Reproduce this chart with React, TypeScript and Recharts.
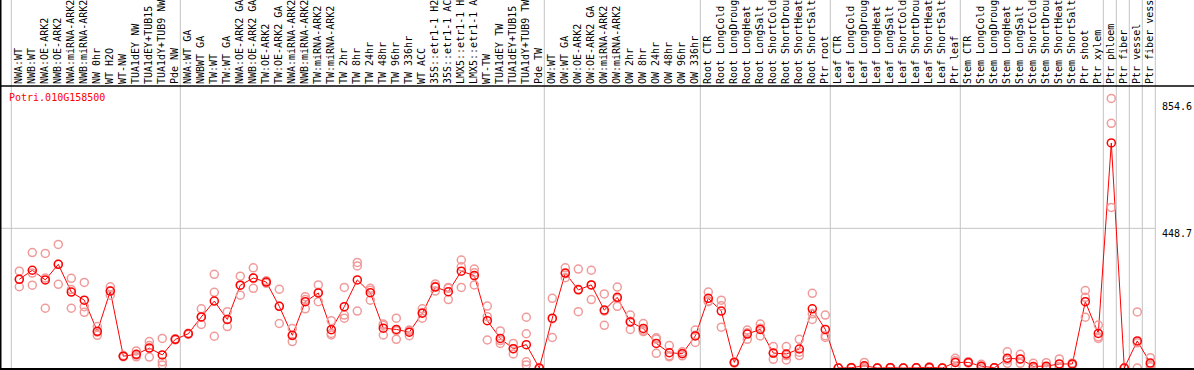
import React from 'react';
import { ComposedChart, Line, XAxis, YAxis, ReferenceLine } from 'recharts';

const geneId = 'Potri.010G158500';

const categories = [
  'NWA:WT', 'NWB:WT', 'NWA:OE-ARK2', 'NWB:OE-ARK2', 'NWA:miRNA-ARK2', 'NWB:miRNA-ARK2',
  'NW 0hr', 'WT H2O', 'WT-NW', 'TUA1dEY NW', 'TUA1dEY+TUB15 NW', 'TUA1dY+TUB9 NW', 'Pde NW',
  'NWA:WT GA', 'NWBWT GA', 'TW:WT', 'TW:WT GA', 'NWA:OE-ARK2 GA', 'NWB:OE-ARK2 GA',
  'TW:OE-ARK2', 'TW:OE-ARK2 GA', 'NWA:miRNA-ARK2 GA', 'NWB:miRNA-ARK2 GA', 'TW:miRNA-ARK2',
  'TW:miRNA-ARK2 GA', 'TW 2hr', 'TW 8hr', 'TW 24hr', 'TW 48hr', 'TW 96hr', 'TW 336hr',
  'WT ACC', '35S::etr1-1 H2O', '35S::etr1-1 ACC', 'LMX5::etr1-1 H2O', 'LMX5::etr1-1 ACC',
  'WT-TW', 'TUA1dEY TW', 'TUA1dEY+TUB15 TW', 'TUA1dY+TUB9 TW', 'Pde TW',
  'OW:WT', 'OW:WT GA', 'OW:OE-ARK2', 'OW:OE-ARK2 GA', 'OW:miRNA-ARK2', 'OW:miRNA-ARK2 GA',
  'OW 2hr', 'OW 8hr', 'OW 24hr', 'OW 48hr', 'OW 96hr', 'OW 336hr',
  'Root CTR', 'Root LongCold', 'Root LongDrought', 'Root LongHeat', 'Root LongSalt',
  'Root ShortCold', 'Root ShortDrought', 'Root ShortHeat', 'Root ShortSalt', 'Ptr root',
  'Leaf CTR', 'Leaf LongCold', 'Leaf LongDrought', 'Leaf LongHeat', 'Leaf LongSalt',
  'Leaf ShortCold', 'Leaf ShortDrought', 'Leaf ShortHeat', 'Leaf ShortSalt', 'Ptr leaf',
  'Stem CTR', 'Stem LongCold', 'Stem LongDrought', 'Stem LongHeat', 'Stem LongSalt',
  'Stem ShortCold', 'Stem ShortDrought', 'Stem ShortHeat', 'Stem ShortSalt', 'Ptr shoot', 'Ptr xylem',
  'Ptr phloem', 'Ptr fiber', 'Ptr vessel', 'Ptr fiber vessel',
];

const means = [
  285, 314, 283, 333, 244, 218, 118, 247, 38, 44, 64, 42, 92,
  110, 164, 215, 156, 266, 289, 276, 198, 105, 213, 241, 123, 197, 283, 242,
  128, 124, 115, 176, 260, 245, 311, 297, 152, 95, 62, 75, 0,
  160, 305, 251, 267, 186, 227, 148, 127, 79, 49, 46, 103,
  224, 183, 18, 109, 124, 48, 45, 61, 190, 124,
  0, 1, 7, 0, 1, 0, 0.5, 2, 0, 18,
  18, 6, 0.5, 31, 29, 5, 6, 13, 13, 213, 111,
  723, 0, 87, 16,
];

// individual replicate measurements (faint circles)
const replicates = [
  [311, 285, 261], [371, 305, 266], [368, 289, 192], [397, 333, 269], [288, 252, 192],
  [275, 197, 179], [133, 115, 105], [261, 247, 234], [40, 38, 36], [55, 41, 36],
  [85, 72, 35], [95, 20, 10], [94, 92, 90],
  [112, 110, 108], [190, 164, 140], [301, 243, 102], [181, 156, 133], [295, 266, 234],
  [322, 289, 256], [280, 276, 272], [253, 198, 143], [127, 104, 85], [229, 220, 190],
  [267, 243, 213], [152, 111, 106], [259, 170, 160], [339, 328, 183], [256, 250, 218],
  [141, 137, 106], [160, 120, 92], [122, 120, 104], [190, 178, 160], [270, 263, 247],
  [259, 256, 220], [347, 325, 259], [318, 306, 267], [199, 165, 90], [119, 88, 79],
  [79, 62, 45], [163, 110, 20, 10], [0, 0, 0],
  [224, 158, 98], [322, 303, 290], [318, 253, 181], [314, 267, 220], [238, 183, 137],
  [260, 223, 198], [170, 150, 124], [143, 121, 117], [97, 93, 47], [72, 39, 36],
  [52, 47, 39], [122, 105, 82],
  [244, 215, 213], [218, 200, 131], [20, 18, 16], [122, 113, 92], [141, 128, 103],
  [69, 47, 28], [69, 40, 26], [92, 51, 40], [240, 174, 156], [170, 104, 98],
  [0, 0, 0], [2, 1, 0], [18, 3, 0], [0, 0, 0], [2, 1, 0], [0, 0, 0], [1, 0.5, 0],
  [4, 2, 0], [0, 0, 0], [31, 23, 0],
  [20, 18, 16], [12, 6, 0], [1, 0.5, 0], [52, 26, 15], [44, 28, 15], [15, 0, 0],
  [17, 1, 0], [29, 5, 5], [16, 13, 10], [249, 227, 163], [138, 100, 95],
  [866, 786, 516], [0, 0, 0], [180, 81, 0], [33, 11, 4],
];

const yTicks = [0, 448.7, 854.6];
const yMax = 906;

// index of the first sample in each block (vertical separators)
const groupStarts = [0, 13, 41, 53, 63, 73, 84, 85, 86, 87];

const RED = '#ff0000';
const PINK = '#f09a9a';
const GRID = '#c4c4c4';
const FONT = '"DejaVu Sans Mono", monospace';

const maxReps = Math.max(...replicates.map(r => r.length));

const rows = categories.map((label, i) => {
  const row: Record<string, any> = { label, mean: means[i] };
  replicates[i].forEach((v, j) => {
    row[`r${j}`] = v;
  });
  return row;
});

const LabelTick = (props: any) => {
  const { x, payload } = props;
  const text = String(payload.value).slice(0, 14);
  return (
    <text
      transform={`translate(${x + 3},84) rotate(-90)`}
      fontFamily={FONT}
      fontSize={10}
      fill="#000"
      textAnchor="start"
    >
      {text}
    </text>
  );
};

const ValueTick = (props: any) => {
  const { y, payload } = props;
  const dy = payload.value === 0 ? -2.5 : 8.5;
  return (
    <text x={1162} y={y + dy} fontFamily={FONT} fontSize={10} fill="#000">
      {payload.value}
    </text>
  );
};

const MeanDot = (props: any) => {
  const { cx, cy } = props;
  if (cx == null || cy == null) return null;
  return <circle cx={cx} cy={cy} r={4} fill="none" stroke={RED} strokeWidth={1.5} />;
};

const vLine = (offset: number) => (p: any) => (
  <line
    x1={p.x1 + offset}
    x2={p.x1 + offset}
    y1={0}
    y2={Math.max(p.y1, p.y2) + 2}
    stroke={GRID}
    strokeWidth={1}
  />
);

const hLine = (p: any) => (
  <line x1={0} x2={Math.max(p.x1, p.x2) - 1.5} y1={p.y1} y2={p.y1} stroke={GRID} strokeWidth={1} />
);

export default function App() {
  return (
    <div style={{ position: 'relative', width: 1194, height: 370, background: '#fff' }}>
      <style>{'body{margin:0}'}</style>
      <ComposedChart
        width={1194}
        height={370}
        data={rows}
        margin={{ top: 0, right: 0, bottom: 2, left: 12.8 }}
      >
        <XAxis
          dataKey="label"
          orientation="top"
          height={86}
          interval={0}
          padding={{ left: 6.5, right: 6.5 }}
          tickLine={false}
          axisLine={false}
          tick={<LabelTick />}
        />
        <YAxis
          orientation="right"
          type="number"
          width={37.2}
          domain={[0, yMax]}
          ticks={yTicks}
          axisLine={false}
          tickLine={false}
          tick={<ValueTick />}
        />
        {groupStarts.map(i => (
          <ReferenceLine key={i} x={categories[i]} ifOverflow="visible" shape={vLine(-8)} />
        ))}
        <ReferenceLine x={categories[categories.length - 1]} ifOverflow="visible" shape={vLine(5)} />
        <ReferenceLine y={yTicks[1]} ifOverflow="visible" shape={hLine} />
        {Array.from({ length: maxReps }, (_, j) => (
          <Line
            key={j}
            dataKey={`r${j}`}
            stroke="none"
            dot={{ r: 4, stroke: PINK, strokeWidth: 1.5, fill: 'none' }}
            activeDot={false}
            isAnimationActive={false}
          />
        ))}
        <Line
          type="linear"
          dataKey="mean"
          stroke={RED}
          strokeWidth={1}
          dot={<MeanDot />}
          activeDot={false}
          isAnimationActive={false}
        />
      </ComposedChart>
      <svg
        width={1194}
        height={370}
        style={{ position: 'absolute', left: 0, top: 0, pointerEvents: 'none' }}
      >
        <line x1={0.75} x2={0.75} y1={0} y2={370} stroke="#000" strokeWidth={1.5} />
        <line x1={0} x2={1194} y1={86} y2={86} stroke="#000" strokeWidth={1.5} />
        <line x1={0} x2={1194} y1={369} y2={369} stroke="#000" strokeWidth={2} />
        <text x={9} y={101} fontFamily={FONT} fontSize={10} fill={RED}>
          {geneId}
        </text>
      </svg>
    </div>
  );
}
